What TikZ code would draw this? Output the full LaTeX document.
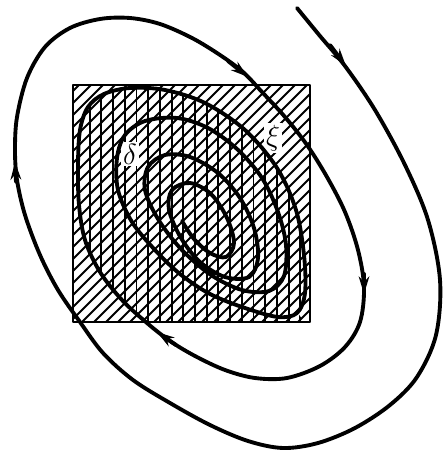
\documentclass[tikz,border=0pt]{standalone}
\usetikzlibrary{arrows.meta}
\begin{document}
\begin{tikzpicture}[x=0.03cm, y=-0.03cm, line cap=round, line join=round,
    traj/.style={line width=3.3pt},
    hatch/.style={line width=1.7pt},
    arr/.style={-{Stealth[length=15pt, width=9pt]}, line width=3.3pt},
    lbl/.style={fill=white, inner sep=1.5pt, font=\fontsize{24}{24}\selectfont}]
    \useasboundingbox (0,0) rectangle (443,450);
    \coordinate (SqA) at (73,85);
    \coordinate (SqB) at (310,322);

    \begin{scope}
      \clip (SqA) rectangle (SqB);
      \foreach \c in {-250,-238,...,320}
        \draw[hatch] (\c,330) -- (\c+260,70);
    \end{scope}

    \begin{scope}
      \clip plot[smooth, tension=0.55] coordinates {(147,323) (122,300) (100,272)
        (85,240) (79,205) (78,165) (80,130) (88,107) (104,94) (130,88) (165,90)
        (205,103) (245,130) (277,168) (296,210) (304,255) (305,293) (297,313)}
        -- (306,322) -- (147,322) -- cycle;
      \foreach \x in {78,89.7,...,312}
        \draw[hatch] (\x,80) -- (\x,330);
    \end{scope}

    \node[lbl] (delta) at (130,154) {$\delta$};
    \node[lbl] (xi) at (273,138) {$\xi$};

    \draw[line width=2.4pt] (SqA) rectangle (SqB);

    \draw[traj] plot[smooth, tension=0.55] coordinates {
      (297,8) (320,36) (345,66) (375,110) (405,165) (428,220) (440,280)
      (436,335) (417,377) (390,405) (355,428) (318,443) (283,448) (248,441)
      (210,425) (170,403) (133,380) (103,353) (80,322) (58,290) (40,255)
      (25,215) (17,180) (15,150) (17,117) (27,78) (45,47) (70,28) (100,19)
      (130,18) (160,24) (192,38) (220,55) (243,72) (262,92) (285,117)
      (307,145) (327,177) (345,212) (358,250) (364,287) (360,322) (345,347)
      (320,366) (287,378) (255,378) (225,370) (195,356) (170,341) (147,323)
      (122,300) (100,272) (85,240) (79,205) (78,165) (80,130) (88,107)
      (104,94) (130,88) (165,90) (205,103) (245,130) (277,168) (296,210)
      (304,255) (305,293) (297,313) (278,317) (245,308) (210,294) (180,274)
      (155,250) (132,222) (118,190) (117,158) (125,135) (145,121) (177,118)
      (208,128) (237,149) (262,178) (278,212) (286,245) (284,276) (269,291)
      (242,290) (211,275) (181,249) (158,219) (145,190) (148,167) (165,155)
      (190,157) (218,173) (240,198) (254,228) (258,258) (249,277) (225,277)
      (200,262) (181,238) (169,210) (172,190) (190,183) (211,194) (227,218)
      (234,243) (226,257) (210,253) (194,239) (182,221)};

    \coordinate (ArA) at (330,45);
    \coordinate (ArB) at (346,66);
    \coordinate (ArC) at (228,61);
    \coordinate (ArD) at (248,77);
    \coordinate (ArE) at (16,182);
    \coordinate (ArF) at (15,162);
    \coordinate (ArG) at (364,274);
    \coordinate (ArH) at (364,294);
    \coordinate (ArI) at (176,345);
    \coordinate (ArJ) at (157,332);
    \draw[arr] (ArA) -- (ArB);
    \draw[arr] (ArC) -- (ArD);
    \draw[arr] (ArE) -- (ArF);
    \draw[arr] (ArG) -- (ArH);
    \draw[arr] (ArI) -- (ArJ);
\end{tikzpicture}
\end{document}
